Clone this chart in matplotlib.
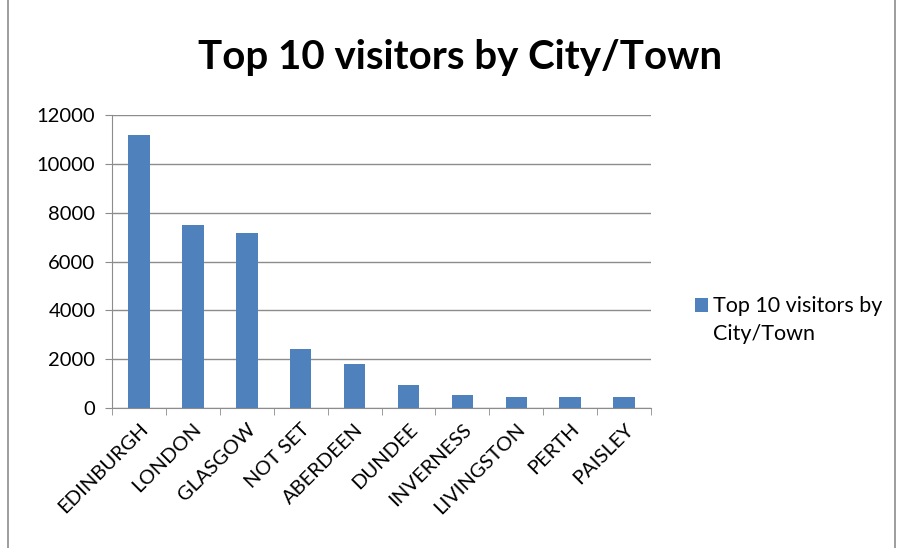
import numpy as np
import matplotlib.pyplot as plt
from matplotlib.patches import Rectangle

cities = ['EDINBURGH', 'LONDON', 'GLASGOW', 'NOT SET', 'ABERDEEN',
          'DUNDEE', 'INVERNESS', 'LIVINGSTON', 'PERTH', 'PAISLEY']
visitors = [11200, 7480, 7170, 2420, 1800, 950, 545, 450, 445, 440]
yticks = [0, 2000, 4000, 6000, 8000, 10000, 12000]
series_name = 'Top 10 visitors by City/Town'

plt.rcParams['font.family'] = ['Lato', 'DejaVu Sans']

fig = plt.figure(figsize=(9, 5.48), dpi=100)
ax = fig.add_axes([0.1244, 0.2555, 0.599, 0.5345])

x = np.arange(len(cities))
bars = ax.bar(x, visitors, width=0.4, color='#4F81BD', zorder=3)

ax.set_xlim(-0.5, len(cities) - 0.5)
ax.set_ylim(0, 12000)
ax.set_yticks(yticks)
ax.set_yticklabels([str(v) for v in yticks], fontsize=14.5)
ax.yaxis.grid(True, color='#8c8c8c', linewidth=1, zorder=0)

ax.set_xticks(x)
ax.set_xticklabels(cities, rotation=45, ha='right', rotation_mode='anchor', fontsize=14.5)
ax.tick_params(axis='x', which='major', length=0, pad=9)
ax.set_xticks(np.arange(len(cities) + 1) - 0.5, minor=True)
ax.tick_params(axis='x', which='minor', length=5, color='#8c8c8c')
ax.tick_params(axis='y', length=5, color='#8c8c8c', pad=7)

for s in ['top', 'right']:
    ax.spines[s].set_visible(False)
for s in ['left', 'bottom']:
    ax.spines[s].set_color('#8c8c8c')

fig.text(0.511, 0.895, series_name, ha='center', va='center',
         fontsize=29, fontweight='bold')

# legend label wraps onto two lines, square sits beside the first one
blank = Rectangle((0, 0), 1, 1, visible=False)
ax.legend([bars, blank], ['Top 10 visitors by', 'City/Town'],
          loc='center left', bbox_to_anchor=(1.045, 0.3), frameon=False,
          fontsize=15.5, handlelength=0.6, handleheight=0.6, handletextpad=0.25,
          labelspacing=0.35)

fig.patches.append(Rectangle((0.009, -0.01), 0.985, 1.02, transform=fig.transFigure,
                             fill=False, edgecolor='#8c8c8c', linewidth=1.2))

fig.savefig('out.png', dpi=100)
